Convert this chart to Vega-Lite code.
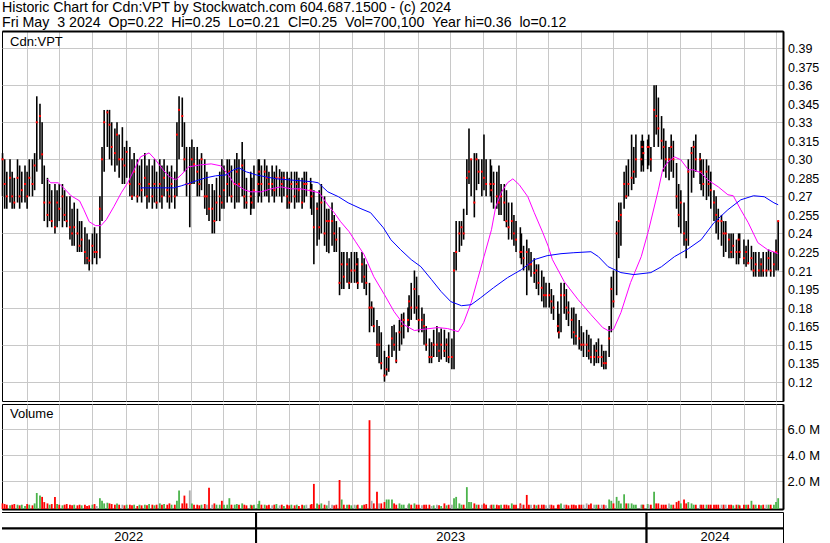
{
"$schema":"https://vega.github.io/schema/vega-lite/v6.json",
"padding":{"left":1,"top":1,"right":0,"bottom":0},
"background":"white",
"title":{"text":["Historic Chart for Cdn:VPT by Stockwatch.com 604.687.1500 - (c) 2024","Fri May\u00a0 3 2024\u00a0 Op=0.22\u00a0 Hi=0.25\u00a0 Lo=0.21\u00a0 Cl=0.25\u00a0 Vol=700,100\u00a0 Year hi=0.36\u00a0 lo=0.12"],"anchor":"start","frame":"group","font":"Liberation Sans","fontSize":14.2,"fontWeight":"normal","color":"#000","lineHeight":14.5,"offset":0.5},
"config":{"view":{"stroke":"#000","strokeWidth":1},"axis":{"gridColor":"#c8c8c8","gridWidth":1,"gridOpacity":1,"labelFont":"Liberation Sans","labelFontSize":13,"labelColor":"#000","ticks":false,"title":null,"labelOverlap":false},"concat":{"spacing":0}},
"datasets":{
"yl":[
{"p":0.39,"t":"0.39"},{"p":0.375,"t":"0.375"},{"p":0.36,"t":"0.36"},{"p":0.345,"t":"0.345"},{"p":0.33,"t":"0.33"},{"p":0.315,"t":"0.315"},{"p":0.30,"t":"0.30"},{"p":0.285,"t":"0.285"},{"p":0.27,"t":"0.27"},{"p":0.255,"t":"0.255"},{"p":0.24,"t":"0.24"},{"p":0.225,"t":"0.225"},{"p":0.21,"t":"0.21"},{"p":0.195,"t":"0.195"},{"p":0.18,"t":"0.18"},{"p":0.165,"t":"0.165"},{"p":0.15,"t":"0.15"},{"p":0.135,"t":"0.135"},{"p":0.12,"t":"0.12"}
],
"px":[
{"d":"2022-05-09","h":0.305,"l":0.27,"c":0.30,"v":0.30,"s":"d"},
{"d":"2022-05-11","h":0.30,"l":0.26,"c":0.28,"v":0.25,"s":"d"},
{"d":"2022-05-13","h":0.29,"l":0.26,"c":0.27,"v":0.2,"s":"d"},
{"d":"2022-05-16","h":0.30,"l":0.265,"c":0.285,"v":0.15,"s":"u"},
{"d":"2022-05-18","h":0.29,"l":0.26,"c":0.27,"v":0.2,"s":"d"},
{"d":"2022-05-20","h":0.285,"l":0.26,"c":0.265,"v":0.25,"s":"d"},
{"d":"2022-05-23","h":0.30,"l":0.265,"c":0.285,"v":0.2,"s":"u"},
{"d":"2022-05-25","h":0.295,"l":0.26,"c":0.27,"v":0.15,"s":"d"},
{"d":"2022-05-27","h":0.29,"l":0.265,"c":0.275,"v":0.2,"s":"u"},
{"d":"2022-05-30","h":0.295,"l":0.265,"c":0.28,"v":0.1,"s":"u"},
{"d":"2022-06-01","h":0.29,"l":0.26,"c":0.27,"v":0.25,"s":"d"},
{"d":"2022-06-03","h":0.30,"l":0.27,"c":0.285,"v":0.2,"s":"u"},
{"d":"2022-06-06","h":0.30,"l":0.27,"c":0.28,"v":0.15,"s":"d"},
{"d":"2022-06-08","h":0.305,"l":0.275,"c":0.295,"v":0.3,"s":"u"},
{"d":"2022-06-10","h":0.351,"l":0.29,"c":0.33,"v":1.1,"s":"u"},
{"d":"2022-06-13","h":0.345,"l":0.30,"c":0.335,"v":0.9,"s":"u"},
{"d":"2022-06-15","h":0.33,"l":0.28,"c":0.304,"v":0.8,"s":"d"},
{"d":"2022-06-17","h":0.295,"l":0.25,"c":0.265,"v":0.4,"s":"d"},
{"d":"2022-06-20","h":0.285,"l":0.245,"c":0.255,"v":0.3,"s":"d"},
{"d":"2022-06-22","h":0.28,"l":0.25,"c":0.265,"v":0.2,"s":"u"},
{"d":"2022-06-24","h":0.275,"l":0.245,"c":0.25,"v":0.25,"s":"d"},
{"d":"2022-06-27","h":0.28,"l":0.24,"c":0.245,"v":0.8,"s":"d"},
{"d":"2022-06-29","h":0.275,"l":0.245,"c":0.265,"v":0.25,"s":"u"},
{"d":"2022-07-01","h":0.28,"l":0.25,"c":0.26,"v":0.2,"s":"d"},
{"d":"2022-07-04","h":0.28,"l":0.245,"c":0.27,"v":0.15,"s":"u"},
{"d":"2022-07-06","h":0.275,"l":0.25,"c":0.255,"v":0.2,"s":"d"},
{"d":"2022-07-08","h":0.27,"l":0.245,"c":0.25,"v":0.25,"s":"d"},
{"d":"2022-07-11","h":0.27,"l":0.235,"c":0.245,"v":0.2,"s":"d"},
{"d":"2022-07-13","h":0.26,"l":0.23,"c":0.24,"v":0.15,"s":"d"},
{"d":"2022-07-15","h":0.265,"l":0.23,"c":0.245,"v":0.2,"s":"u"},
{"d":"2022-07-18","h":0.26,"l":0.225,"c":0.24,"v":0.15,"s":"d"},
{"d":"2022-07-20","h":0.25,"l":0.225,"c":0.23,"v":0.2,"s":"d"},
{"d":"2022-07-22","h":0.25,"l":0.225,"c":0.235,"v":0.15,"s":"u"},
{"d":"2022-07-25","h":0.245,"l":0.215,"c":0.225,"v":0.2,"s":"d"},
{"d":"2022-07-27","h":0.24,"l":0.215,"c":0.22,"v":0.1,"s":"d"},
{"d":"2022-07-29","h":0.235,"l":0.21,"c":0.218,"v":0.15,"s":"d"},
{"d":"2022-08-01","h":0.24,"l":0.215,"c":0.23,"v":0.2,"s":"u"},
{"d":"2022-08-03","h":0.245,"l":0.22,"c":0.225,"v":0.25,"s":"d"},
{"d":"2022-08-05","h":0.24,"l":0.215,"c":0.225,"v":0.1,"s":"n"},
{"d":"2022-08-08","h":0.27,"l":0.22,"c":0.26,"v":0.7,"s":"u"},
{"d":"2022-08-10","h":0.31,"l":0.25,"c":0.30,"v":0.5,"s":"u"},
{"d":"2022-08-12","h":0.34,"l":0.29,"c":0.33,"v":0.3,"s":"u"},
{"d":"2022-08-15","h":0.34,"l":0.31,"c":0.338,"v":0.35,"s":"u"},
{"d":"2022-08-17","h":0.34,"l":0.30,"c":0.328,"v":0.3,"s":"d"},
{"d":"2022-08-19","h":0.33,"l":0.295,"c":0.31,"v":0.25,"s":"d"},
{"d":"2022-08-22","h":0.325,"l":0.29,"c":0.305,"v":0.2,"s":"d"},
{"d":"2022-08-24","h":0.33,"l":0.295,"c":0.32,"v":0.3,"s":"u"},
{"d":"2022-08-26","h":0.32,"l":0.285,"c":0.30,"v":0.2,"s":"d"},
{"d":"2022-08-29","h":0.326,"l":0.28,"c":0.30,"v":0.2,"s":"n"},
{"d":"2022-08-31","h":0.31,"l":0.28,"c":0.295,"v":0.15,"s":"d"},
{"d":"2022-09-02","h":0.315,"l":0.285,"c":0.306,"v":0.2,"s":"u"},
{"d":"2022-09-05","h":0.31,"l":0.27,"c":0.28,"v":0.2,"s":"d"},
{"d":"2022-09-07","h":0.30,"l":0.267,"c":0.27,"v":0.15,"s":"d"},
{"d":"2022-09-09","h":0.305,"l":0.27,"c":0.29,"v":0.2,"s":"u"},
{"d":"2022-09-12","h":0.30,"l":0.265,"c":0.27,"v":0.1,"s":"d"},
{"d":"2022-09-14","h":0.295,"l":0.27,"c":0.28,"v":0.2,"s":"u"},
{"d":"2022-09-16","h":0.30,"l":0.265,"c":0.275,"v":0.15,"s":"d"},
{"d":"2022-09-19","h":0.305,"l":0.27,"c":0.285,"v":0.2,"s":"u"},
{"d":"2022-09-21","h":0.295,"l":0.26,"c":0.27,"v":0.15,"s":"d"},
{"d":"2022-09-23","h":0.30,"l":0.265,"c":0.28,"v":0.25,"s":"u"},
{"d":"2022-09-26","h":0.295,"l":0.26,"c":0.27,"v":0.2,"s":"d"},
{"d":"2022-09-28","h":0.30,"l":0.265,"c":0.28,"v":0.15,"s":"u"},
{"d":"2022-09-30","h":0.29,"l":0.26,"c":0.265,"v":0.2,"s":"d"},
{"d":"2022-10-03","h":0.30,"l":0.265,"c":0.28,"v":0.3,"s":"u"},
{"d":"2022-10-05","h":0.295,"l":0.26,"c":0.27,"v":0.2,"s":"d"},
{"d":"2022-10-07","h":0.30,"l":0.27,"c":0.285,"v":0.25,"s":"u"},
{"d":"2022-10-10","h":0.295,"l":0.265,"c":0.275,"v":0.2,"s":"d"},
{"d":"2022-10-12","h":0.29,"l":0.26,"c":0.27,"v":0.3,"s":"d"},
{"d":"2022-10-14","h":0.295,"l":0.265,"c":0.28,"v":0.2,"s":"u"},
{"d":"2022-10-17","h":0.29,"l":0.26,"c":0.27,"v":0.2,"s":"d"},
{"d":"2022-10-19","h":0.33,"l":0.27,"c":0.32,"v":0.5,"s":"u"},
{"d":"2022-10-21","h":0.351,"l":0.30,"c":0.34,"v":1.3,"s":"u"},
{"d":"2022-10-24","h":0.35,"l":0.31,"c":0.335,"v":0.3,"s":"d"},
{"d":"2022-10-26","h":0.33,"l":0.29,"c":0.30,"v":0.9,"s":"d"},
{"d":"2022-10-28","h":0.31,"l":0.27,"c":0.28,"v":0.3,"s":"d"},
{"d":"2022-10-31","h":0.31,"l":0.245,"c":0.28,"v":1.3,"s":"n"},
{"d":"2022-11-02","h":0.316,"l":0.28,"c":0.30,"v":0.3,"s":"u"},
{"d":"2022-11-04","h":0.31,"l":0.28,"c":0.296,"v":0.2,"s":"d"},
{"d":"2022-11-07","h":0.31,"l":0.27,"c":0.29,"v":0.2,"s":"d"},
{"d":"2022-11-09","h":0.30,"l":0.27,"c":0.28,"v":0.15,"s":"d"},
{"d":"2022-11-11","h":0.305,"l":0.275,"c":0.30,"v":0.2,"s":"u"},
{"d":"2022-11-14","h":0.30,"l":0.26,"c":0.27,"v":0.25,"s":"d"},
{"d":"2022-11-16","h":0.29,"l":0.255,"c":0.27,"v":0.2,"s":"n"},
{"d":"2022-11-18","h":0.28,"l":0.25,"c":0.26,"v":1.5,"s":"d"},
{"d":"2022-11-21","h":0.28,"l":0.24,"c":0.26,"v":0.2,"s":"n"},
{"d":"2022-11-23","h":0.275,"l":0.24,"c":0.25,"v":0.3,"s":"d"},
{"d":"2022-11-25","h":0.285,"l":0.25,"c":0.265,"v":0.2,"s":"u"},
{"d":"2022-11-28","h":0.29,"l":0.25,"c":0.27,"v":0.2,"s":"u"},
{"d":"2022-11-30","h":0.30,"l":0.26,"c":0.265,"v":0.5,"s":"d"},
{"d":"2022-12-02","h":0.295,"l":0.26,"c":0.275,"v":0.2,"s":"u"},
{"d":"2022-12-05","h":0.30,"l":0.265,"c":0.28,"v":0.2,"s":"u"},
{"d":"2022-12-07","h":0.30,"l":0.27,"c":0.29,"v":0.7,"s":"u"},
{"d":"2022-12-09","h":0.295,"l":0.265,"c":0.27,"v":0.2,"s":"d"},
{"d":"2022-12-12","h":0.30,"l":0.26,"c":0.28,"v":0.2,"s":"u"},
{"d":"2022-12-14","h":0.305,"l":0.265,"c":0.29,"v":0.25,"s":"u"},
{"d":"2022-12-16","h":0.30,"l":0.265,"c":0.28,"v":0.2,"s":"d"},
{"d":"2022-12-19","h":0.314,"l":0.27,"c":0.295,"v":0.3,"s":"u"},
{"d":"2022-12-21","h":0.30,"l":0.26,"c":0.27,"v":0.2,"s":"d"},
{"d":"2022-12-23","h":0.285,"l":0.26,"c":0.265,"v":0.15,"s":"d"},
{"d":"2022-12-27","h":0.29,"l":0.255,"c":0.27,"v":0.2,"s":"u"},
{"d":"2022-12-28","h":0.285,"l":0.26,"c":0.265,"v":0.15,"s":"d"},
{"d":"2022-12-30","h":0.295,"l":0.26,"c":0.275,"v":0.2,"s":"u"},
{"d":"2023-01-03","h":0.30,"l":0.265,"c":0.28,"v":0.25,"s":"u"},
{"d":"2023-01-04","h":0.30,"l":0.27,"c":0.29,"v":0.5,"s":"u"},
{"d":"2023-01-06","h":0.295,"l":0.265,"c":0.28,"v":0.2,"s":"d"},
{"d":"2023-01-09","h":0.30,"l":0.27,"c":0.29,"v":0.2,"s":"u"},
{"d":"2023-01-11","h":0.295,"l":0.27,"c":0.285,"v":0.15,"s":"d"},
{"d":"2023-01-13","h":0.29,"l":0.265,"c":0.28,"v":0.2,"s":"d"},
{"d":"2023-01-16","h":0.295,"l":0.27,"c":0.28,"v":0.15,"s":"n"},
{"d":"2023-01-18","h":0.29,"l":0.265,"c":0.275,"v":0.2,"s":"d"},
{"d":"2023-01-20","h":0.295,"l":0.27,"c":0.285,"v":0.25,"s":"u"},
{"d":"2023-01-23","h":0.292,"l":0.27,"c":0.285,"v":0.15,"s":"n"},
{"d":"2023-01-25","h":0.29,"l":0.265,"c":0.28,"v":0.2,"s":"d"},
{"d":"2023-01-27","h":0.29,"l":0.27,"c":0.285,"v":0.1,"s":"u"},
{"d":"2023-01-30","h":0.29,"l":0.26,"c":0.27,"v":0.2,"s":"d"},
{"d":"2023-02-01","h":0.285,"l":0.26,"c":0.265,"v":0.15,"s":"d"},
{"d":"2023-02-03","h":0.29,"l":0.265,"c":0.28,"v":0.2,"s":"u"},
{"d":"2023-02-06","h":0.29,"l":0.26,"c":0.27,"v":0.15,"s":"d"},
{"d":"2023-02-08","h":0.29,"l":0.265,"c":0.28,"v":0.2,"s":"u"},
{"d":"2023-02-10","h":0.285,"l":0.265,"c":0.275,"v":0.1,"s":"d"},
{"d":"2023-02-13","h":0.285,"l":0.26,"c":0.265,"v":0.2,"s":"d"},
{"d":"2023-02-15","h":0.29,"l":0.265,"c":0.28,"v":0.15,"s":"u"},
{"d":"2023-02-17","h":0.29,"l":0.27,"c":0.28,"v":0.2,"s":"n"},
{"d":"2023-02-21","h":0.285,"l":0.26,"c":0.275,"v":0.2,"s":"d"},
{"d":"2023-02-22","h":0.28,"l":0.255,"c":0.27,"v":0.25,"s":"d"},
{"d":"2023-02-24","h":0.275,"l":0.215,"c":0.245,"v":1.8,"s":"d"},
{"d":"2023-02-27","h":0.265,"l":0.23,"c":0.26,"v":0.3,"s":"u"},
{"d":"2023-03-01","h":0.275,"l":0.235,"c":0.245,"v":0.2,"s":"d"},
{"d":"2023-03-03","h":0.28,"l":0.24,"c":0.265,"v":0.3,"s":"u"},
{"d":"2023-03-06","h":0.27,"l":0.23,"c":0.24,"v":0.2,"s":"d"},
{"d":"2023-03-08","h":0.26,"l":0.225,"c":0.25,"v":0.15,"s":"u"},
{"d":"2023-03-10","h":0.26,"l":0.224,"c":0.25,"v":0.5,"s":"n"},
{"d":"2023-03-13","h":0.265,"l":0.23,"c":0.25,"v":0.2,"s":"n"},
{"d":"2023-03-15","h":0.255,"l":0.225,"c":0.24,"v":0.15,"s":"d"},
{"d":"2023-03-17","h":0.25,"l":0.225,"c":0.235,"v":0.2,"s":"d"},
{"d":"2023-03-20","h":0.245,"l":0.19,"c":0.20,"v":2.1,"s":"d"},
{"d":"2023-03-22","h":0.225,"l":0.195,"c":0.215,"v":0.6,"s":"u"},
{"d":"2023-03-24","h":0.225,"l":0.195,"c":0.205,"v":0.2,"s":"d"},
{"d":"2023-03-27","h":0.225,"l":0.20,"c":0.215,"v":0.2,"s":"u"},
{"d":"2023-03-29","h":0.22,"l":0.195,"c":0.20,"v":0.2,"s":"d"},
{"d":"2023-03-31","h":0.225,"l":0.20,"c":0.21,"v":0.15,"s":"u"},
{"d":"2023-04-03","h":0.225,"l":0.20,"c":0.21,"v":0.2,"s":"n"},
{"d":"2023-04-05","h":0.225,"l":0.20,"c":0.215,"v":0.15,"s":"u"},
{"d":"2023-04-06","h":0.22,"l":0.195,"c":0.20,"v":0.2,"s":"d"},
{"d":"2023-04-10","h":0.225,"l":0.20,"c":0.215,"v":0.15,"s":"u"},
{"d":"2023-04-12","h":0.22,"l":0.195,"c":0.205,"v":0.2,"s":"d"},
{"d":"2023-04-14","h":0.215,"l":0.19,"c":0.20,"v":0.25,"s":"d"},
{"d":"2023-04-17","h":0.20,"l":0.16,"c":0.18,"v":6.7,"s":"d"},
{"d":"2023-04-19","h":0.185,"l":0.165,"c":0.18,"v":0.5,"s":"n"},
{"d":"2023-04-21","h":0.18,"l":0.16,"c":0.165,"v":0.3,"s":"d"},
{"d":"2023-04-24","h":0.17,"l":0.14,"c":0.15,"v":1.2,"s":"d"},
{"d":"2023-04-26","h":0.165,"l":0.135,"c":0.15,"v":0.3,"s":"n"},
{"d":"2023-04-28","h":0.16,"l":0.13,"c":0.135,"v":0.3,"s":"d"},
{"d":"2023-05-01","h":0.145,"l":0.12,"c":0.125,"v":0.4,"s":"d"},
{"d":"2023-05-03","h":0.14,"l":0.125,"c":0.13,"v":0.6,"s":"u"},
{"d":"2023-05-05","h":0.15,"l":0.128,"c":0.14,"v":0.6,"s":"u"},
{"d":"2023-05-08","h":0.165,"l":0.14,"c":0.155,"v":0.6,"s":"u"},
{"d":"2023-05-10","h":0.166,"l":0.145,"c":0.15,"v":0.3,"s":"d"},
{"d":"2023-05-12","h":0.16,"l":0.135,"c":0.137,"v":0.2,"s":"d"},
{"d":"2023-05-15","h":0.17,"l":0.145,"c":0.16,"v":0.3,"s":"u"},
{"d":"2023-05-17","h":0.175,"l":0.15,"c":0.165,"v":0.2,"s":"u"},
{"d":"2023-05-19","h":0.176,"l":0.155,"c":0.17,"v":0.2,"s":"u"},
{"d":"2023-05-23","h":0.18,"l":0.16,"c":0.17,"v":0.2,"s":"n"},
{"d":"2023-05-24","h":0.19,"l":0.165,"c":0.185,"v":0.3,"s":"u"},
{"d":"2023-05-26","h":0.20,"l":0.17,"c":0.18,"v":0.2,"s":"d"},
{"d":"2023-05-29","h":0.21,"l":0.175,"c":0.195,"v":0.3,"s":"u"},
{"d":"2023-05-31","h":0.205,"l":0.17,"c":0.18,"v":0.2,"s":"d"},
{"d":"2023-06-02","h":0.19,"l":0.16,"c":0.17,"v":0.2,"s":"d"},
{"d":"2023-06-05","h":0.18,"l":0.16,"c":0.17,"v":0.15,"s":"n"},
{"d":"2023-06-07","h":0.175,"l":0.15,"c":0.165,"v":0.2,"s":"d"},
{"d":"2023-06-09","h":0.165,"l":0.145,"c":0.15,"v":0.2,"s":"d"},
{"d":"2023-06-12","h":0.155,"l":0.135,"c":0.14,"v":0.2,"s":"d"},
{"d":"2023-06-14","h":0.152,"l":0.135,"c":0.14,"v":0.1,"s":"n"},
{"d":"2023-06-16","h":0.162,"l":0.14,"c":0.15,"v":0.15,"s":"u"},
{"d":"2023-06-19","h":0.165,"l":0.14,"c":0.15,"v":0.2,"s":"n"},
{"d":"2023-06-21","h":0.16,"l":0.136,"c":0.145,"v":0.15,"s":"d"},
{"d":"2023-06-23","h":0.163,"l":0.138,"c":0.15,"v":0.1,"s":"u"},
{"d":"2023-06-26","h":0.162,"l":0.14,"c":0.145,"v":0.3,"s":"d"},
{"d":"2023-06-28","h":0.155,"l":0.136,"c":0.15,"v":0.15,"s":"u"},
{"d":"2023-06-30","h":0.16,"l":0.135,"c":0.14,"v":0.2,"s":"d"},
{"d":"2023-07-03","h":0.155,"l":0.13,"c":0.14,"v":0.2,"s":"n"},
{"d":"2023-07-05","h":0.225,"l":0.13,"c":0.21,"v":0.7,"s":"u"},
{"d":"2023-07-07","h":0.25,"l":0.21,"c":0.225,"v":0.8,"s":"u"},
{"d":"2023-07-10","h":0.25,"l":0.225,"c":0.24,"v":0.3,"s":"u"},
{"d":"2023-07-12","h":0.25,"l":0.23,"c":0.245,"v":0.2,"s":"u"},
{"d":"2023-07-14","h":0.26,"l":0.235,"c":0.24,"v":0.2,"s":"d"},
{"d":"2023-07-17","h":0.30,"l":0.255,"c":0.285,"v":1.55,"s":"u"},
{"d":"2023-07-19","h":0.325,"l":0.28,"c":0.29,"v":0.4,"s":"u"},
{"d":"2023-07-21","h":0.30,"l":0.27,"c":0.30,"v":0.4,"s":"u"},
{"d":"2023-07-24","h":0.305,"l":0.253,"c":0.265,"v":0.3,"s":"d"},
{"d":"2023-07-26","h":0.305,"l":0.275,"c":0.30,"v":0.2,"s":"u"},
{"d":"2023-07-28","h":0.30,"l":0.28,"c":0.29,"v":0.2,"s":"d"},
{"d":"2023-07-31","h":0.30,"l":0.27,"c":0.29,"v":0.2,"s":"n"},
{"d":"2023-08-02","h":0.32,"l":0.275,"c":0.285,"v":0.3,"s":"d"},
{"d":"2023-08-04","h":0.30,"l":0.27,"c":0.28,"v":0.2,"s":"d"},
{"d":"2023-08-08","h":0.30,"l":0.27,"c":0.28,"v":0.15,"s":"n"},
{"d":"2023-08-09","h":0.295,"l":0.265,"c":0.275,"v":0.2,"s":"d"},
{"d":"2023-08-11","h":0.29,"l":0.26,"c":0.28,"v":0.2,"s":"u"},
{"d":"2023-08-14","h":0.29,"l":0.26,"c":0.27,"v":0.2,"s":"d"},
{"d":"2023-08-16","h":0.295,"l":0.255,"c":0.265,"v":0.15,"s":"d"},
{"d":"2023-08-18","h":0.28,"l":0.255,"c":0.27,"v":0.2,"s":"u"},
{"d":"2023-08-21","h":0.28,"l":0.25,"c":0.265,"v":0.2,"s":"d"},
{"d":"2023-08-23","h":0.275,"l":0.245,"c":0.25,"v":0.2,"s":"d"},
{"d":"2023-08-25","h":0.265,"l":0.235,"c":0.245,"v":0.15,"s":"d"},
{"d":"2023-08-28","h":0.265,"l":0.235,"c":0.25,"v":0.3,"s":"u"},
{"d":"2023-08-30","h":0.255,"l":0.23,"c":0.24,"v":0.2,"s":"d"},
{"d":"2023-09-01","h":0.25,"l":0.225,"c":0.235,"v":0.2,"s":"d"},
{"d":"2023-09-05","h":0.245,"l":0.22,"c":0.225,"v":0.3,"s":"d"},
{"d":"2023-09-06","h":0.24,"l":0.215,"c":0.225,"v":0.2,"s":"n"},
{"d":"2023-09-08","h":0.23,"l":0.21,"c":0.22,"v":0.2,"s":"d"},
{"d":"2023-09-11","h":0.235,"l":0.19,"c":0.225,"v":0.95,"s":"d"},
{"d":"2023-09-13","h":0.228,"l":0.21,"c":0.215,"v":0.2,"s":"d"},
{"d":"2023-09-15","h":0.225,"l":0.205,"c":0.215,"v":0.2,"s":"n"},
{"d":"2023-09-18","h":0.22,"l":0.20,"c":0.208,"v":0.2,"s":"d"},
{"d":"2023-09-20","h":0.215,"l":0.195,"c":0.21,"v":0.15,"s":"u"},
{"d":"2023-09-22","h":0.215,"l":0.19,"c":0.20,"v":0.2,"s":"d"},
{"d":"2023-09-25","h":0.21,"l":0.185,"c":0.196,"v":0.2,"s":"d"},
{"d":"2023-09-27","h":0.205,"l":0.18,"c":0.19,"v":0.2,"s":"d"},
{"d":"2023-09-29","h":0.20,"l":0.18,"c":0.19,"v":0.15,"s":"n"},
{"d":"2023-10-02","h":0.20,"l":0.18,"c":0.19,"v":0.2,"s":"n"},
{"d":"2023-10-04","h":0.195,"l":0.175,"c":0.185,"v":0.2,"s":"d"},
{"d":"2023-10-06","h":0.19,"l":0.17,"c":0.18,"v":0.15,"s":"d"},
{"d":"2023-10-10","h":0.185,"l":0.16,"c":0.165,"v":0.2,"s":"d"},
{"d":"2023-10-11","h":0.175,"l":0.155,"c":0.16,"v":0.2,"s":"d"},
{"d":"2023-10-13","h":0.20,"l":0.16,"c":0.19,"v":0.3,"s":"u"},
{"d":"2023-10-16","h":0.20,"l":0.175,"c":0.19,"v":0.2,"s":"n"},
{"d":"2023-10-18","h":0.195,"l":0.17,"c":0.18,"v":0.2,"s":"d"},
{"d":"2023-10-20","h":0.185,"l":0.165,"c":0.176,"v":0.15,"s":"d"},
{"d":"2023-10-23","h":0.18,"l":0.155,"c":0.17,"v":0.2,"s":"d"},
{"d":"2023-10-25","h":0.18,"l":0.15,"c":0.16,"v":0.2,"s":"d"},
{"d":"2023-10-27","h":0.175,"l":0.15,"c":0.157,"v":0.15,"s":"d"},
{"d":"2023-10-30","h":0.17,"l":0.146,"c":0.155,"v":0.2,"s":"d"},
{"d":"2023-11-01","h":0.165,"l":0.145,"c":0.15,"v":0.2,"s":"d"},
{"d":"2023-11-03","h":0.16,"l":0.14,"c":0.15,"v":0.2,"s":"n"},
{"d":"2023-11-06","h":0.162,"l":0.14,"c":0.15,"v":0.3,"s":"n"},
{"d":"2023-11-08","h":0.158,"l":0.138,"c":0.145,"v":0.2,"s":"d"},
{"d":"2023-11-10","h":0.155,"l":0.135,"c":0.14,"v":0.3,"s":"d"},
{"d":"2023-11-13","h":0.15,"l":0.133,"c":0.14,"v":0.2,"s":"n"},
{"d":"2023-11-15","h":0.152,"l":0.135,"c":0.145,"v":0.2,"s":"u"},
{"d":"2023-11-17","h":0.155,"l":0.135,"c":0.14,"v":0.2,"s":"d"},
{"d":"2023-11-20","h":0.15,"l":0.132,"c":0.14,"v":0.2,"s":"n"},
{"d":"2023-11-22","h":0.145,"l":0.13,"c":0.135,"v":0.2,"s":"d"},
{"d":"2023-11-24","h":0.145,"l":0.13,"c":0.135,"v":0.15,"s":"n"},
{"d":"2023-11-27","h":0.165,"l":0.14,"c":0.155,"v":0.6,"s":"u"},
{"d":"2023-11-29","h":0.205,"l":0.16,"c":0.195,"v":0.5,"s":"u"},
{"d":"2023-12-01","h":0.21,"l":0.18,"c":0.185,"v":0.3,"s":"d"},
{"d":"2023-12-04","h":0.25,"l":0.19,"c":0.24,"v":0.8,"s":"u"},
{"d":"2023-12-06","h":0.265,"l":0.22,"c":0.25,"v":0.5,"s":"u"},
{"d":"2023-12-08","h":0.265,"l":0.23,"c":0.255,"v":0.3,"s":"u"},
{"d":"2023-12-11","h":0.29,"l":0.26,"c":0.28,"v":1.0,"s":"u"},
{"d":"2023-12-13","h":0.295,"l":0.268,"c":0.27,"v":0.3,"s":"d"},
{"d":"2023-12-15","h":0.30,"l":0.27,"c":0.28,"v":0.3,"s":"u"},
{"d":"2023-12-18","h":0.32,"l":0.275,"c":0.285,"v":0.3,"s":"u"},
{"d":"2023-12-20","h":0.31,"l":0.28,"c":0.29,"v":0.2,"s":"u"},
{"d":"2023-12-22","h":0.32,"l":0.285,"c":0.30,"v":0.2,"s":"u"},
{"d":"2023-12-27","h":0.315,"l":0.29,"c":0.30,"v":0.2,"s":"n"},
{"d":"2023-12-28","h":0.32,"l":0.295,"c":0.31,"v":0.2,"s":"u"},
{"d":"2023-12-29","h":0.315,"l":0.29,"c":0.305,"v":0.2,"s":"d"},
{"d":"2024-01-02","h":0.316,"l":0.292,"c":0.31,"v":0.25,"s":"u"},
{"d":"2024-01-03","h":0.32,"l":0.295,"c":0.31,"v":0.2,"s":"n"},
{"d":"2024-01-05","h":0.31,"l":0.29,"c":0.30,"v":0.2,"s":"d"},
{"d":"2024-01-08","h":0.36,"l":0.31,"c":0.34,"v":1.2,"s":"u"},
{"d":"2024-01-10","h":0.36,"l":0.32,"c":0.335,"v":0.3,"s":"d"},
{"d":"2024-01-12","h":0.35,"l":0.31,"c":0.325,"v":0.3,"s":"d"},
{"d":"2024-01-15","h":0.335,"l":0.30,"c":0.315,"v":0.2,"s":"d"},
{"d":"2024-01-17","h":0.325,"l":0.29,"c":0.31,"v":0.2,"s":"d"},
{"d":"2024-01-19","h":0.315,"l":0.285,"c":0.30,"v":0.2,"s":"d"},
{"d":"2024-01-22","h":0.31,"l":0.283,"c":0.30,"v":0.3,"s":"n"},
{"d":"2024-01-24","h":0.32,"l":0.29,"c":0.31,"v":0.2,"s":"u"},
{"d":"2024-01-26","h":0.315,"l":0.285,"c":0.30,"v":0.2,"s":"d"},
{"d":"2024-01-29","h":0.297,"l":0.26,"c":0.27,"v":0.4,"s":"d"},
{"d":"2024-01-31","h":0.28,"l":0.245,"c":0.255,"v":0.5,"s":"d"},
{"d":"2024-02-02","h":0.275,"l":0.24,"c":0.265,"v":0.3,"s":"u"},
{"d":"2024-02-05","h":0.265,"l":0.23,"c":0.24,"v":0.6,"s":"d"},
{"d":"2024-02-07","h":0.25,"l":0.22,"c":0.235,"v":0.3,"s":"d"},
{"d":"2024-02-09","h":0.30,"l":0.23,"c":0.29,"v":0.4,"s":"u"},
{"d":"2024-02-12","h":0.31,"l":0.273,"c":0.305,"v":0.3,"s":"u"},
{"d":"2024-02-14","h":0.315,"l":0.285,"c":0.31,"v":0.2,"s":"u"},
{"d":"2024-02-16","h":0.32,"l":0.29,"c":0.30,"v":0.2,"s":"d"},
{"d":"2024-02-20","h":0.305,"l":0.28,"c":0.30,"v":0.2,"s":"n"},
{"d":"2024-02-21","h":0.30,"l":0.275,"c":0.29,"v":0.2,"s":"d"},
{"d":"2024-02-23","h":0.30,"l":0.27,"c":0.28,"v":0.2,"s":"d"},
{"d":"2024-02-26","h":0.30,"l":0.267,"c":0.29,"v":0.2,"s":"u"},
{"d":"2024-02-28","h":0.295,"l":0.27,"c":0.28,"v":0.2,"s":"d"},
{"d":"2024-03-01","h":0.29,"l":0.26,"c":0.275,"v":0.2,"s":"d"},
{"d":"2024-03-04","h":0.275,"l":0.25,"c":0.265,"v":0.2,"s":"d"},
{"d":"2024-03-06","h":0.27,"l":0.24,"c":0.255,"v":0.2,"s":"d"},
{"d":"2024-03-08","h":0.26,"l":0.235,"c":0.25,"v":0.2,"s":"d"},
{"d":"2024-03-11","h":0.255,"l":0.23,"c":0.25,"v":0.2,"s":"n"},
{"d":"2024-03-13","h":0.25,"l":0.221,"c":0.24,"v":0.2,"s":"d"},
{"d":"2024-03-15","h":0.25,"l":0.225,"c":0.24,"v":0.2,"s":"n"},
{"d":"2024-03-18","h":0.24,"l":0.22,"c":0.235,"v":0.2,"s":"d"},
{"d":"2024-03-20","h":0.24,"l":0.22,"c":0.225,"v":0.2,"s":"d"},
{"d":"2024-03-22","h":0.24,"l":0.22,"c":0.23,"v":0.15,"s":"u"},
{"d":"2024-03-25","h":0.235,"l":0.215,"c":0.225,"v":0.2,"s":"d"},
{"d":"2024-03-27","h":0.24,"l":0.215,"c":0.235,"v":0.2,"s":"u"},
{"d":"2024-03-28","h":0.24,"l":0.22,"c":0.225,"v":0.15,"s":"d"},
{"d":"2024-04-01","h":0.235,"l":0.215,"c":0.22,"v":0.2,"s":"d"},
{"d":"2024-04-03","h":0.23,"l":0.213,"c":0.225,"v":0.2,"s":"u"},
{"d":"2024-04-05","h":0.235,"l":0.215,"c":0.216,"v":0.2,"s":"d"},
{"d":"2024-04-08","h":0.23,"l":0.21,"c":0.22,"v":0.5,"s":"u"},
{"d":"2024-04-10","h":0.225,"l":0.205,"c":0.21,"v":0.2,"s":"d"},
{"d":"2024-04-12","h":0.225,"l":0.205,"c":0.215,"v":0.2,"s":"u"},
{"d":"2024-04-15","h":0.225,"l":0.205,"c":0.21,"v":0.2,"s":"d"},
{"d":"2024-04-17","h":0.22,"l":0.205,"c":0.215,"v":0.15,"s":"u"},
{"d":"2024-04-19","h":0.225,"l":0.205,"c":0.21,"v":0.2,"s":"d"},
{"d":"2024-04-22","h":0.225,"l":0.205,"c":0.21,"v":0.2,"s":"n"},
{"d":"2024-04-24","h":0.227,"l":0.21,"c":0.22,"v":0.2,"s":"u"},
{"d":"2024-04-26","h":0.225,"l":0.205,"c":0.21,"v":0.2,"s":"d"},
{"d":"2024-04-29","h":0.225,"l":0.205,"c":0.215,"v":0.2,"s":"u"},
{"d":"2024-05-01","h":0.235,"l":0.21,"c":0.225,"v":0.4,"s":"u"},
{"d":"2024-05-03","h":0.25,"l":0.21,"c":0.25,"v":0.7,"s":"u"}
],
"ma":[
{"d":"2022-06-20","v":0.284,"k":"a"},{"d":"2022-06-23","v":0.281,"k":"a"},{"d":"2022-06-30","v":0.281,"k":"a"},{"d":"2022-07-05","v":0.277,"k":"a"},{"d":"2022-07-12","v":0.2705,"k":"a"},{"d":"2022-07-20","v":0.2664,"k":"a"},{"d":"2022-07-24","v":0.2592,"k":"a"},{"d":"2022-07-29","v":0.2495,"k":"a"},{"d":"2022-08-04","v":0.2463,"k":"a"},{"d":"2022-08-09","v":0.2463,"k":"a"},{"d":"2022-08-14","v":0.2511,"k":"a"},{"d":"2022-08-21","v":0.2616,"k":"a"},{"d":"2022-08-28","v":0.2729,"k":"a"},{"d":"2022-09-03","v":0.281,"k":"a"},{"d":"2022-09-09","v":0.2915,"k":"a"},{"d":"2022-09-15","v":0.302,"k":"a"},{"d":"2022-09-23","v":0.3052,"k":"a"},{"d":"2022-09-29","v":0.2996,"k":"a"},{"d":"2022-10-06","v":0.2915,"k":"a"},{"d":"2022-10-12","v":0.2858,"k":"a"},{"d":"2022-10-18","v":0.2834,"k":"a"},{"d":"2022-10-23","v":0.2874,"k":"a"},{"d":"2022-10-30","v":0.2939,"k":"a"},{"d":"2022-11-10","v":0.2955,"k":"a"},{"d":"2022-11-20","v":0.2963,"k":"a"},{"d":"2022-11-29","v":0.2947,"k":"a"},{"d":"2022-12-06","v":0.2874,"k":"a"},{"d":"2022-12-11","v":0.281,"k":"a"},{"d":"2022-12-21","v":0.2753,"k":"a"},{"d":"2022-12-27","v":0.2737,"k":"a"},{"d":"2023-01-06","v":0.2737,"k":"a"},{"d":"2023-01-15","v":0.2761,"k":"a"},{"d":"2023-01-24","v":0.2777,"k":"a"},{"d":"2023-02-03","v":0.2761,"k":"a"},{"d":"2023-02-12","v":0.2761,"k":"a"},{"d":"2023-02-21","v":0.2745,"k":"a"},{"d":"2023-03-01","v":0.2729,"k":"a"},{"d":"2023-03-09","v":0.2632,"k":"a"},{"d":"2023-03-15","v":0.2568,"k":"a"},{"d":"2023-03-21","v":0.2495,"k":"a"},{"d":"2023-03-29","v":0.2414,"k":"a"},{"d":"2023-04-04","v":0.2333,"k":"a"},{"d":"2023-04-12","v":0.2228,"k":"a"},{"d":"2023-04-21","v":0.205,"k":"a"},{"d":"2023-05-01","v":0.1904,"k":"a"},{"d":"2023-05-10","v":0.1767,"k":"a"},{"d":"2023-05-19","v":0.1662,"k":"a"},{"d":"2023-05-29","v":0.1614,"k":"a"},{"d":"2023-06-04","v":0.1622,"k":"a"},{"d":"2023-06-20","v":0.1638,"k":"a"},{"d":"2023-06-29","v":0.163,"k":"a"},{"d":"2023-07-09","v":0.1605,"k":"a"},{"d":"2023-07-14","v":0.1678,"k":"a"},{"d":"2023-07-21","v":0.184,"k":"a"},{"d":"2023-07-27","v":0.2026,"k":"a"},{"d":"2023-08-02","v":0.2212,"k":"a"},{"d":"2023-08-09","v":0.243,"k":"a"},{"d":"2023-08-13","v":0.2616,"k":"a"},{"d":"2023-08-18","v":0.2729,"k":"a"},{"d":"2023-08-24","v":0.281,"k":"a"},{"d":"2023-08-29","v":0.2842,"k":"a"},{"d":"2023-09-04","v":0.2794,"k":"a"},{"d":"2023-09-12","v":0.2697,"k":"a"},{"d":"2023-09-18","v":0.2568,"k":"a"},{"d":"2023-09-26","v":0.2406,"k":"a"},{"d":"2023-10-01","v":0.2297,"k":"a"},{"d":"2023-10-05","v":0.2188,"k":"a"},{"d":"2023-10-16","v":0.201,"k":"a"},{"d":"2023-10-29","v":0.1864,"k":"a"},{"d":"2023-11-10","v":0.1743,"k":"a"},{"d":"2023-11-21","v":0.1638,"k":"a"},{"d":"2023-11-26","v":0.1614,"k":"a"},{"d":"2023-12-01","v":0.1622,"k":"a"},{"d":"2023-12-08","v":0.1759,"k":"a"},{"d":"2023-12-17","v":0.2002,"k":"a"},{"d":"2023-12-27","v":0.2212,"k":"a"},{"d":"2024-01-03","v":0.243,"k":"a"},{"d":"2024-01-12","v":0.2753,"k":"a"},{"d":"2024-01-16","v":0.2915,"k":"a"},{"d":"2024-01-21","v":0.2979,"k":"a"},{"d":"2024-01-27","v":0.302,"k":"a"},{"d":"2024-02-02","v":0.2996,"k":"a"},{"d":"2024-02-09","v":0.2915,"k":"a"},{"d":"2024-02-14","v":0.2915,"k":"a"},{"d":"2024-02-21","v":0.289,"k":"a"},{"d":"2024-02-27","v":0.2834,"k":"a"},{"d":"2024-03-08","v":0.2777,"k":"a"},{"d":"2024-03-17","v":0.2713,"k":"a"},{"d":"2024-03-22","v":0.2705,"k":"a"},{"d":"2024-03-29","v":0.2592,"k":"a"},{"d":"2024-04-05","v":0.2487,"k":"a"},{"d":"2024-04-14","v":0.2325,"k":"a"},{"d":"2024-04-23","v":0.2269,"k":"a"},{"d":"2024-05-03","v":0.2236,"k":"a"},
{"d":"2022-09-15","v":0.2769,"k":"b"},{"d":"2022-09-25","v":0.2769,"k":"b"},{"d":"2022-10-04","v":0.2769,"k":"b"},{"d":"2022-10-16","v":0.2769,"k":"b"},{"d":"2022-10-23","v":0.2785,"k":"b"},{"d":"2022-10-29","v":0.2802,"k":"b"},{"d":"2022-11-06","v":0.2826,"k":"b"},{"d":"2022-11-15","v":0.285,"k":"b"},{"d":"2022-11-24","v":0.2866,"k":"b"},{"d":"2022-12-04","v":0.2874,"k":"b"},{"d":"2022-12-11","v":0.2915,"k":"b"},{"d":"2022-12-16","v":0.2931,"k":"b"},{"d":"2022-12-23","v":0.2898,"k":"b"},{"d":"2023-01-01","v":0.2874,"k":"b"},{"d":"2023-01-10","v":0.2858,"k":"b"},{"d":"2023-01-20","v":0.2842,"k":"b"},{"d":"2023-02-23","v":0.2818,"k":"b"},{"d":"2023-02-28","v":0.281,"k":"b"},{"d":"2023-03-09","v":0.2737,"k":"b"},{"d":"2023-03-19","v":0.2697,"k":"b"},{"d":"2023-03-28","v":0.2648,"k":"b"},{"d":"2023-04-09","v":0.26,"k":"b"},{"d":"2023-04-18","v":0.2568,"k":"b"},{"d":"2023-04-30","v":0.2446,"k":"b"},{"d":"2023-05-07","v":0.2349,"k":"b"},{"d":"2023-05-16","v":0.2269,"k":"b"},{"d":"2023-05-26","v":0.2188,"k":"b"},{"d":"2023-06-04","v":0.2131,"k":"b"},{"d":"2023-06-14","v":0.2026,"k":"b"},{"d":"2023-06-23","v":0.1929,"k":"b"},{"d":"2023-07-02","v":0.1848,"k":"b"},{"d":"2023-07-12","v":0.1815,"k":"b"},{"d":"2023-07-21","v":0.1823,"k":"b"},{"d":"2023-07-30","v":0.188,"k":"b"},{"d":"2023-08-11","v":0.1961,"k":"b"},{"d":"2023-08-24","v":0.2042,"k":"b"},{"d":"2023-09-06","v":0.2107,"k":"b"},{"d":"2023-09-18","v":0.2188,"k":"b"},{"d":"2023-09-30","v":0.222,"k":"b"},{"d":"2023-10-13","v":0.2236,"k":"b"},{"d":"2023-10-25","v":0.2244,"k":"b"},{"d":"2023-11-10","v":0.2252,"k":"b"},{"d":"2023-11-17","v":0.2212,"k":"b"},{"d":"2023-11-26","v":0.2131,"k":"b"},{"d":"2023-12-08","v":0.2083,"k":"b"},{"d":"2023-12-20","v":0.2067,"k":"b"},{"d":"2024-01-05","v":0.2083,"k":"b"},{"d":"2024-01-15","v":0.2131,"k":"b"},{"d":"2024-01-27","v":0.2212,"k":"b"},{"d":"2024-02-09","v":0.2276,"k":"b"},{"d":"2024-02-21","v":0.2349,"k":"b"},{"d":"2024-03-04","v":0.2487,"k":"b"},{"d":"2024-03-17","v":0.2592,"k":"b"},{"d":"2024-03-29","v":0.2672,"k":"b"},{"d":"2024-04-10","v":0.2705,"k":"b"},{"d":"2024-04-20","v":0.2697,"k":"b"},{"d":"2024-04-29","v":0.2648,"k":"b"},{"d":"2024-05-03","v":0.2632,"k":"b"}
],
"yr":[
{"t":"2022","r":"a","s":"2022-05-01","e":"2023-01-01","m":"2022-09-04"},
{"t":"2022","r":"b","s":"2022-05-01","e":"2023-01-01","m":"2022-09-04"},
{"t":"2023","r":"a","s":"2023-01-01","e":"2024-01-01","m":"2023-07-02"},
{"t":"2023","r":"b","s":"2023-01-01","e":"2024-01-01","m":"2023-07-02"},
{"t":"2024","r":"a","s":"2024-01-01","e":"2024-06-01","m":"2024-03-05"},
{"t":"2024","r":"b","s":"2024-01-01","e":"2024-06-01","m":"2024-03-05"}
]
},
"spacing":0,
"resolve":{"scale":{"color":"independent"}},
"vconcat":[
{"spacing":1,"resolve":{"scale":{"color":"independent"}},"vconcat":[
{"width":781,"height":370,
"layer":[
{"data":{"name":"px"},"mark":{"type":"rule","color":"#000","strokeWidth":1.6},
"encoding":{
"x":{"field":"d","type":"temporal","scale":{"type":"utc","domain":[{"year":2022,"month":5,"date":8,"hours":12,"utc":true},{"year":2024,"month":5,"date":7,"hours":12,"utc":true}]},"axis":{"orient":"top","grid":true,"labels":false,"domain":true,"domainColor":"#000","domainWidth":2,"tickCount":{"interval":"month","step":1}}},
"y":{"field":"l","type":"quantitative","scale":{"domain":[0.10438,0.40384],"nice":false,"zero":false},"axis":{"orient":"right","values":[0.12,0.135,0.15,0.165,0.18,0.195,0.21,0.225,0.24,0.255,0.27,0.285,0.3,0.315,0.33,0.345,0.36,0.375,0.39],"grid":true,"labels":false,"domain":true,"domainColor":"#000","domainWidth":2}},
"y2":{"field":"h"}}},
{"data":{"name":"px"},"mark":{"type":"square","color":"#ff0000","size":4,"opacity":1},
"encoding":{
"x":{"field":"d","type":"temporal","scale":{"type":"utc","domain":[{"year":2022,"month":5,"date":8,"hours":12,"utc":true},{"year":2024,"month":5,"date":7,"hours":12,"utc":true}]}},
"y":{"field":"c","type":"quantitative","scale":{"domain":[0.10438,0.40384],"nice":false,"zero":false}}}},
{"data":{"name":"ma"},"mark":{"type":"line","strokeWidth":1},
"encoding":{
"x":{"field":"d","type":"temporal","scale":{"type":"utc","domain":[{"year":2022,"month":5,"date":8,"hours":12,"utc":true},{"year":2024,"month":5,"date":7,"hours":12,"utc":true}]}},
"y":{"field":"v","type":"quantitative","scale":{"domain":[0.10438,0.40384],"nice":false,"zero":false}},
"color":{"field":"k","type":"nominal","scale":{"domain":["a","b"],"range":["#ff00ff","#0000ff"]},"legend":null}}},
{"data":{"name":"yl"},"mark":{"type":"text","align":"left","baseline":"middle","dx":5,"dy":1,"font":"Liberation Sans","fontSize":12.5,"color":"#000"},
"encoding":{"text":{"field":"t"},
"x":{"datum":{"year":2024,"month":5,"date":7,"hours":12,"utc":true},"type":"temporal"},
"y":{"field":"p","type":"quantitative","scale":{"domain":[0.10438,0.40384],"nice":false,"zero":false}}}},
{"data":{"values":[{"t":"Cdn:VPT"}]},"mark":{"type":"text","align":"left","baseline":"alphabetic","font":"Liberation Sans","fontSize":13,"color":"#000"},
"encoding":{"text":{"field":"t"},
"x":{"datum":{"year":2022,"month":5,"date":16,"utc":true},"type":"temporal"},
"y":{"datum":0.3917}}}
]},
{"width":781,"height":105,
"layer":[
{"data":{"name":"px"},"mark":{"type":"rule","strokeWidth":1.8},
"encoding":{
"x":{"field":"d","type":"temporal","scale":{"type":"utc","domain":[{"year":2022,"month":5,"date":8,"hours":12,"utc":true},{"year":2024,"month":5,"date":7,"hours":12,"utc":true}]},"axis":{"orient":"bottom","grid":true,"labels":false,"domain":true,"domainColor":"#000","domainWidth":2,"tickCount":{"interval":"month","step":1}}},
"y":{"field":"v","type":"quantitative","scale":{"domain":[-0.131,7.946],"nice":false,"zero":false},"axis":{"orient":"right","values":[2,4,6],"grid":true,"labelOverlap":false,"labelExpr":"format(datum.value, '.1f') + ' M'","domain":true,"domainColor":"#000","domainWidth":2,"labelPadding":4}},
"y2":{"datum":-0.131},
"color":{"field":"s","type":"nominal","scale":{"domain":["u","d","n"],"range":["#4cb44c","#ff0000","#a8a8a8"]},"legend":null}}},
{"data":{"values":[{"t":"Volume"}]},"mark":{"type":"text","align":"left","baseline":"alphabetic","font":"Liberation Sans","fontSize":13,"color":"#000"},
"encoding":{"text":{"field":"t"},
"x":{"datum":{"year":2022,"month":5,"date":16,"utc":true},"type":"temporal"},
"y":{"datum":6.85}}}
]}
]},
{"width":781,"height":33,
"data":{"name":"yr"},
"layer":[
{"mark":{"type":"rect","fill":"white","stroke":"#000","strokeWidth":2,"clip":true},
"encoding":{
"x":{"field":"s","type":"temporal","scale":{"type":"utc","domain":[{"year":2022,"month":5,"date":8,"hours":12,"utc":true},{"year":2024,"month":5,"date":7,"hours":12,"utc":true}]},"axis":null},
"x2":{"field":"e"},
"y":{"field":"r","type":"nominal","scale":{"domain":["a","b"],"paddingInner":0,"paddingOuter":0},"axis":null}}},
{"transform":[{"filter":"datum.r == 'b'"}],"mark":{"type":"text","font":"Liberation Sans","fontSize":13,"baseline":"middle","color":"#000"},
"encoding":{
"x":{"field":"m","type":"temporal","scale":{"type":"utc","domain":[{"year":2022,"month":5,"date":8,"hours":12,"utc":true},{"year":2024,"month":5,"date":7,"hours":12,"utc":true}]}},
"y":{"field":"r","type":"nominal","scale":{"domain":["a","b"],"paddingInner":0,"paddingOuter":0}},
"text":{"field":"t"}}}
]}
]
}
